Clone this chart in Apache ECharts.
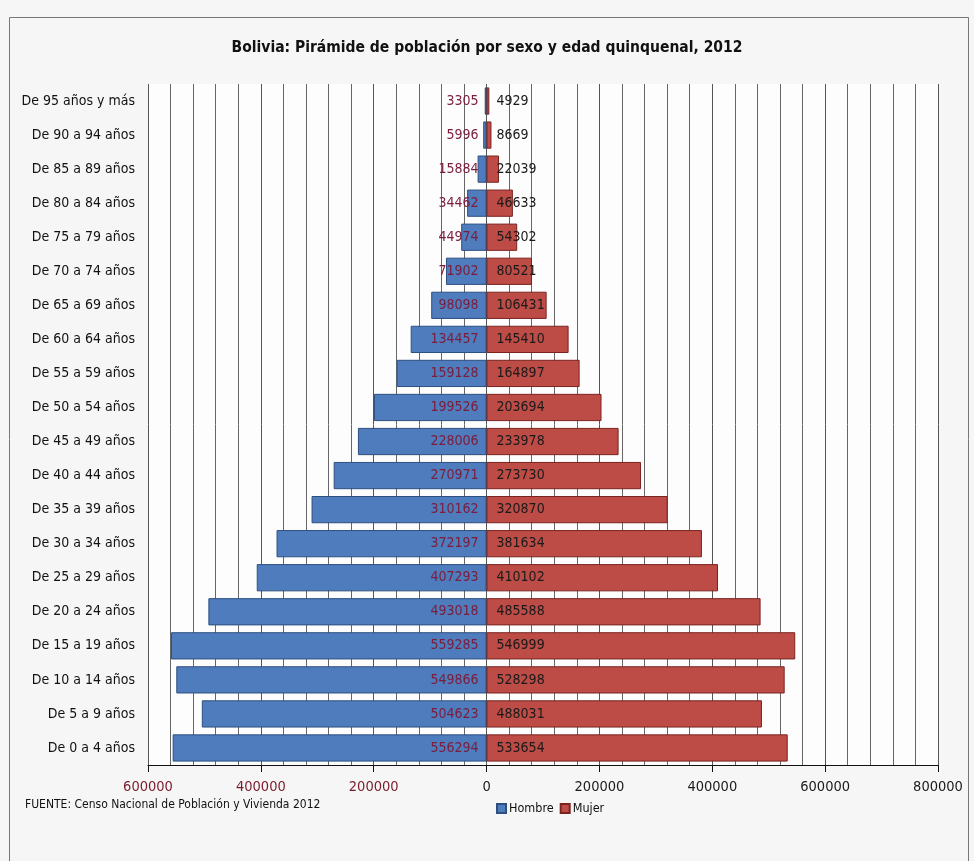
<!DOCTYPE html>
<html>
<head>
<meta charset="utf-8">
<script src="https://cdn.jsdelivr.net/npm/echarts@6/dist/echarts.min.js"></script>
<style>
  html, body { margin: 0; padding: 0; background: #ffffff; }
  #chart { width: 974px; height: 861px; }
</style>
</head>
<body>
<div id="chart"></div>
<script>
// grupos de edad, de abajo hacia arriba
const categorias = [
  'De 0 a 4 años', 'De 5 a 9 años', 'De 10 a 14 años', 'De 15 a 19 años',
  'De 20 a 24 años', 'De 25 a 29 años', 'De 30 a 34 años', 'De 35 a 39 años',
  'De 40 a 44 años', 'De 45 a 49 años', 'De 50 a 54 años', 'De 55 a 59 años',
  'De 60 a 64 años', 'De 65 a 69 años', 'De 70 a 74 años', 'De 75 a 79 años',
  'De 80 a 84 años', 'De 85 a 89 años', 'De 90 a 94 años', 'De 95 años y más'
]
const hombre = [
  556294, 504623, 549866, 559285, 493018, 407293, 372197, 310162, 270971, 228006,
  199526, 159128, 134457, 98098, 71902, 44974, 34462, 15884, 5996, 3305
]
const mujer = [
  533654, 488031, 528298, 546999, 485588, 410102, 381634, 320870, 273730, 233978,
  203694, 164897, 145410, 106431, 80521, 54302, 46633, 22039, 8669, 4929
]
const ejeMin = -600000
const ejeMax = 800000
const ejePaso = 200000

const fuente = "'Liberation Sans Narrow', 'DejaVu Sans Condensed', sans-serif"

let mychart = echarts.init(document.getElementById('chart'))
mychart.setOption({
  backgroundColor: '#f6f6f6',
  animation: false,
  title: {
    text: 'Bolivia: Pirámide de población por sexo y edad quinquenal, 2012',
    left: 'center',
    top: 35,
    textStyle: { fontFamily: fuente, fontWeight: 'bold', fontSize: 15.5, color: '#111' }
  },
  // marco y nota de fuente
  graphic: [
    {
      type: 'rect', left: 7, top: 15, z: -1,
      shape: { width: 959, height: 850 },
      style: { fill: 'none', stroke: '#777', lineWidth: 1 }
    },
    {
      type: 'text', left: 25, top: 799,
      style: { text: 'FUENTE: Censo Nacional de Población y Vivienda 2012', font: '12px ' + fuente, fill: '#111' }
    }
  ],
  legend: {
    data: ['Hombre', 'Mujer'],
    left: 491,
    top: 797,
    itemWidth: 9,
    itemHeight: 9,
    itemGap: 6,
    icon: 'rect',
    textStyle: { fontFamily: fuente, fontSize: 12.5, color: '#111', padding: [0, 0, 0, -2] }
  },
  grid: { left: 148, right: 36, top: 84, height: 681, containLabel: false, show: true, backgroundColor: '#fdfdfd', borderWidth: 0 },
  xAxis: {
    type: 'value',
    min: ejeMin,
    max: ejeMax,
    interval: ejePaso,
    axisLine: { show: true, onZero: false, lineStyle: { color: '#111' } },
    axisTick: { show: true, length: 7, lineStyle: { color: '#111' } },
    minorTick: { show: false },
    splitLine: { show: true, lineStyle: { color: '#555', width: 1 } },
    minorSplitLine: { show: true, lineStyle: { color: '#666', width: 1 } },
    axisLabel: {
      margin: 15,
      formatter: function (v) {
        return v < 0 ? '{n|' + (-v) + '}' : '{p|' + v + '}'
      },
      rich: {
        n: { fontFamily: fuente, fontSize: 14.5, color: '#7a1c2c' },
        p: { fontFamily: fuente, fontSize: 14.5, color: '#1a1a1a' }
      }
    }
  },
  yAxis: {
    type: 'category',
    data: categorias,
    axisLine: { show: false, onZero: false },
    axisTick: { show: false },
    axisLabel: { fontFamily: fuente, fontSize: 14, color: '#111', margin: 13 }
  },
  series: [
    {
      name: 'Hombre',
      type: 'bar',
      stack: 'total',
      barCategoryGap: '20%',
      data: hombre.map(v => -v),
      itemStyle: { color: '#4f7cbc', borderColor: '#2d4f80', borderWidth: 1 },
      label: {
        show: true,
        position: 'insideRight',
        distance: 8,
        formatter: p => Math.abs(p.value),
        fontFamily: fuente,
        fontSize: 14,
        color: '#7b1c3c'
      }
    },
    {
      name: 'Mujer',
      type: 'bar',
      stack: 'total',
      barCategoryGap: '20%',
      data: mujer,
      itemStyle: { color: '#bd4b46', borderColor: '#7a2420', borderWidth: 1 },
      label: {
        show: true,
        position: 'insideLeft',
        distance: 10,
        fontFamily: fuente,
        fontSize: 14,
        color: '#1a1a1a'
      }
    }
  ]
})
</script>
</body>
</html>
